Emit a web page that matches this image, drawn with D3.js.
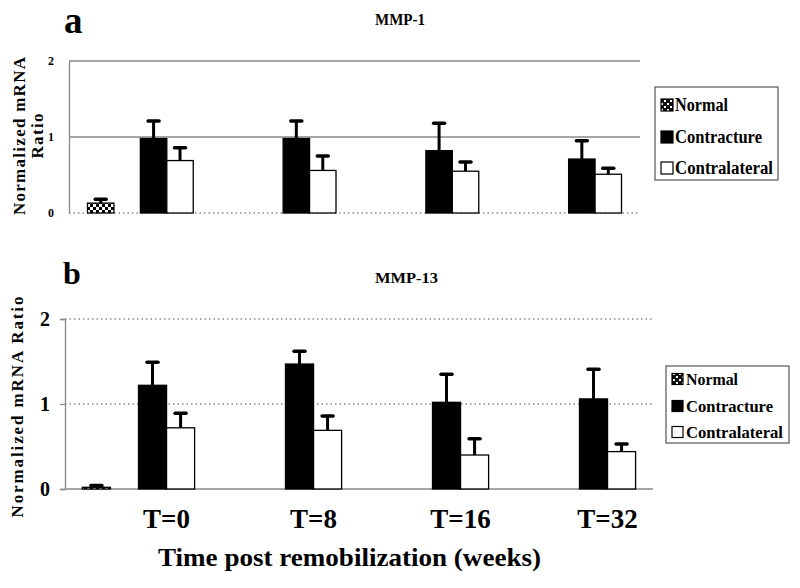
<!DOCTYPE html>
<html><head><meta charset="utf-8">
<script src="https://cdn.jsdelivr.net/npm/d3@7"></script>
<style>body{margin:0;background:#fff}svg{display:block}</style>
</head><body><svg id="c" width="800" height="588"></svg>
<script>
const groups = ["T=0","T=8","T=16","T=32"];
const seriesNames = ["Normal","Contracture","Contralateral"];
// MMP-1
const mmp1Normal = [0.13, null, null, null];
const mmp1NormalErr = [0.05, null, null, null];
const mmp1Contracture = [0.98, 0.98, 0.82, 0.71];
const mmp1ContractureErr = [0.23, 0.23, 0.36, 0.24];
const mmp1Contralateral = [0.69, 0.56, 0.55, 0.51];
const mmp1ContralateralErr = [0.17, 0.19, 0.12, 0.08];
// MMP-13
const mmp13Normal = [0.02, null, null, null];
const mmp13NormalErr = [0.02, null, null, null];
const mmp13Contracture = [1.22, 1.47, 1.02, 1.06];
const mmp13ContractureErr = [0.27, 0.15, 0.33, 0.35];
const mmp13Contralateral = [0.72, 0.69, 0.40, 0.44];
const mmp13ContralateralErr = [0.17, 0.17, 0.19, 0.09];
const yTicks = [0, 1, 2];

const SERIF = "'Liberation Serif','Times New Roman',serif";
const svg = d3.select("#c");
const defs = svg.append("defs");
const pat = defs.append("pattern").attr("id","chk").attr("width",6).attr("height",6).attr("patternUnits","userSpaceOnUse");
pat.append("rect").attr("width",6).attr("height",6).attr("fill","#fff");
pat.append("rect").attr("width",3).attr("height",3).attr("fill","#000");
pat.append("rect").attr("x",3).attr("y",3).attr("width",3).attr("height",3).attr("fill","#000");
const pat2 = defs.append("pattern").attr("id","chk2").attr("width",6).attr("height",6).attr("patternUnits","userSpaceOnUse");
pat2.append("rect").attr("width",6).attr("height",6).attr("fill","#111");
pat2.append("rect").attr("x",1).attr("y",1).attr("width",2).attr("height",2).attr("fill","#fff");
pat2.append("rect").attr("x",4).attr("y",4).attr("width",2).attr("height",2).attr("fill","#fff");

function txt(parent, t, opts){
  const el = parent.append("text")
    .attr("font-family", SERIF).attr("font-weight","bold")
    .attr("font-size", opts.fs).attr("fill","#000").text(t);
  if (opts.transform) el.attr("transform", opts.transform);
  else el.attr("x", opts.x).attr("y", opts.y);
  if (opts.anchor) el.attr("text-anchor", opts.anchor);
  if (opts.dy) el.attr("dy", opts.dy);
  if (opts.len) el.attr("textLength", opts.len).attr("lengthAdjust", opts.adj || "spacingAndGlyphs");
  return el;
}

function panel(cfg){
  const g = svg.append("g");
  const x0 = d3.scaleBand().domain(groups).range([cfg.left, cfg.right]);
  const x1 = d3.scaleBand().domain(["Normal","gap","Contracture","Contralateral"])
      .range([0, x0.bandwidth()]).paddingOuter(cfg.outer);
  const y = d3.scaleLinear().domain([0,2]).range([cfg.y0, cfg.y2]);

  g.selectAll(".grid").data(yTicks).join("line")
    .attr("x1", cfg.left).attr("x2", cfg.right)
    .attr("y1", d=>y(d)).attr("y2", d=>y(d))
    .attr("stroke", "#888").attr("stroke-width", 1.3)
    .attr("stroke-dasharray", d => cfg.dotted.includes(d) ? "1.5,3" : null);
  const ax = d3.axisLeft(y).tickValues(yTicks).tickFormat(d3.format("d")).tickSize(cfg.tick).tickPadding(cfg.pad);
  const axg = g.append("g").attr("transform",`translate(${cfg.left},0)`).call(ax);
  axg.select(".domain").attr("stroke","#888").attr("stroke-width",1.3);
  axg.selectAll(".tick line").attr("stroke","#888").attr("stroke-width",1.3);
  axg.selectAll("text").attr("font-family",SERIF).attr("font-weight","bold")
    .attr("font-size",cfg.tickFont).attr("fill","#000");

  const series = [
    {name:"Normal", vals:cfg.normal, errs:cfg.normalErr, fill:"url(#chk)"},
    {name:"Contracture", vals:cfg.contr, errs:cfg.contrErr, fill:"#000"},
    {name:"Contralateral", vals:cfg.contra, errs:cfg.contraErr, fill:"#fff"}
  ];
  series.forEach(s=>{
    const data = groups.map((gname,i)=>({g:gname, v:s.vals[i], e:s.errs[i]})).filter(d=>d.v!=null);
    const cx = d => x0(d.g) + x1(s.name) + x1.bandwidth()/2;
    g.selectAll(null).data(data).join("line")
      .attr("x1", cx).attr("x2", cx)
      .attr("y1", d=>y(d.v)).attr("y2", d=>y(d.v+d.e))
      .attr("stroke","#000").attr("stroke-width",3);
    g.selectAll(null).data(data).join("line")
      .attr("x1", d=>cx(d)-5.5).attr("x2", d=>cx(d)+5.5)
      .attr("y1", d=>y(d.v+d.e)).attr("y2", d=>y(d.v+d.e))
      .attr("stroke","#000").attr("stroke-width",3.5).attr("stroke-linecap","round");
    g.selectAll(null).data(data).join("rect")
      .attr("x", d=>x0(d.g) + x1(s.name)).attr("width", x1.bandwidth())
      .attr("y", d=>y(d.v)).attr("height", d=>y(0)-y(d.v))
      .attr("fill", s.fill).attr("stroke","#000").attr("stroke-width",1.3);
  });

  txt(g, cfg.title, {x:cfg.titleX, y:cfg.titleY, fs:cfg.titleFs, len:cfg.titleLen});
  txt(g, cfg.letter, {x:cfg.letterX, y:cfg.letterY, fs:cfg.letterFs});
  cfg.ylabel.forEach((t,i)=>{
    txt(g, t, {transform:`translate(${cfg.ylabelX[i]},${cfg.ylabelY}) rotate(-90)`, anchor:"middle",
      fs:cfg.ylabelFs, len:cfg.ylabelLen[i], adj:"spacing"});
  });
  const L = cfg.legend;
  g.append("rect").attr("x",L.x).attr("y",L.y).attr("width",L.w).attr("height",L.h)
    .attr("fill","#fff").attr("stroke","#555").attr("stroke-width",1.2);
  series.forEach((s,i)=>{
    const yy = L.ys[i];
    g.append("rect").attr("x",L.sx).attr("y",yy-L.sw/2).attr("width",L.sw).attr("height",L.sw)
      .attr("fill", s.name==="Normal" ? "url(#chk2)" : s.fill).attr("stroke","#000").attr("stroke-width",1.2);
    txt(g, s.name, {x:L.tx, y:yy, dy:"0.35em", fs:L.fs, len:L.lens[i]});
  });
  return {x0, x1};
}

panel({left:69, right:640, y0:213, y2:61, outer:0.7, dotted:[0], tick:0, pad:15, tickFont:12,
  normal:mmp1Normal, normalErr:mmp1NormalErr, contr:mmp1Contracture, contrErr:mmp1ContractureErr,
  contra:mmp1Contralateral, contraErr:mmp1ContralateralErr,
  title:"MMP-1", titleX:375, titleY:25, titleFs:16, titleLen:50,
  letter:"a", letterX:64, letterY:33, letterFs:37,
  ylabel:["Normalized mRNA","Ratio"], ylabelX:[25,43], ylabelY:136, ylabelFs:17, ylabelLen:[158,45],
  legend:{x:655, y:87, w:123, h:93, ys:[105,137,168], sx:661, sw:12, tx:675, fs:18, lens:[53,87,98]}});

const pb = panel({left:65, right:653, y0:489, y2:319, outer:0.62, dotted:[1,2], tick:5, pad:10, tickFont:20,
  normal:mmp13Normal, normalErr:mmp13NormalErr, contr:mmp13Contracture, contrErr:mmp13ContractureErr,
  contra:mmp13Contralateral, contraErr:mmp13ContralateralErr,
  title:"MMP-13", titleX:375, titleY:283, titleFs:15, titleLen:63,
  letter:"b", letterX:63, letterY:284, letterFs:32,
  ylabel:["Normalized mRNA Ratio"], ylabelX:[23], ylabelY:407, ylabelFs:17, ylabelLen:[221],
  legend:{x:666, y:366, w:123, h:77, ys:[379,406,432], sx:672, sw:11, tx:686, fs:17, lens:[52,87,97]}});

svg.selectAll(".xl").data(groups).join("text")
  .attr("x", d => pb.x0(d) + pb.x1("Contralateral"))
  .attr("y", 528).attr("text-anchor","middle")
  .attr("font-family",SERIF).attr("font-weight","bold").attr("font-size",27)
  .text(d=>d);
txt(svg, "Time post remobilization (weeks)", {x:158, y:566, fs:25, len:383});
</script></body></html>
